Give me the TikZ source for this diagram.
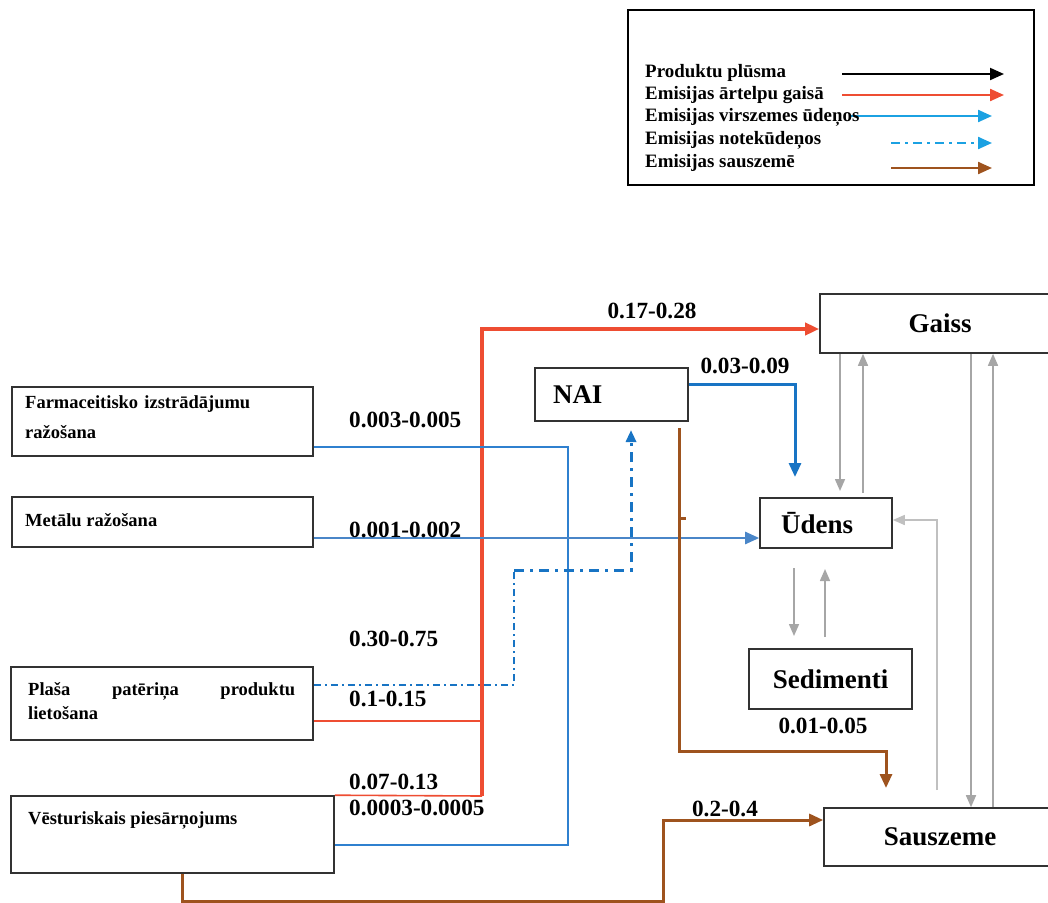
\documentclass[tikz,border=0pt]{standalone}
\usepackage{fontspec}
\setmainfont{Liberation Serif}
\usetikzlibrary{arrows.meta}

\definecolor{airred}{RGB}{238,77,50}
\definecolor{legcyan}{RGB}{27,161,226}
\definecolor{waterblue}{RGB}{24,116,196}
\definecolor{farmblue}{RGB}{47,128,207}
\definecolor{metalblue}{RGB}{74,134,200}
\definecolor{soilbrown}{RGB}{158,83,30}
\definecolor{flowgray}{RGB}{166,166,166}
\definecolor{lightflow}{RGB}{192,192,192}
\definecolor{framegray}{RGB}{50,50,50}

\tikzset{
  frame/.style={draw=framegray, line width=1.6pt, inner sep=0pt},
  bigtext/.style={font=\fontsize{27pt}{30pt}\selectfont\bfseries},
  srctext/.style={font=\fontsize{18.5pt}{30pt}\selectfont\bfseries, inner sep=0pt, anchor=west, align=left},
  numlab/.style={font=\fontsize{23.2pt}{25pt}\selectfont\bfseries, inner sep=0pt},
  legtext/.style={font=\fontsize{18.9pt}{22pt}\selectfont\bfseries, inner sep=0pt, anchor=west},
  bigtip/.style={-{Triangle[length=14pt,width=12pt]}},
  midtip/.style={-{Triangle[length=12pt,width=10pt]}},
  redthin/.style={draw=airred, line width=1.6pt},
  redthick/.style={draw=airred, line width=3.6pt},
  bluethin/.style={draw=farmblue, line width=1.6pt},
  metalline/.style={draw=metalblue, line width=2.4pt},
  waterline/.style={draw=waterblue, line width=3pt},
  ddthin/.style={draw=waterblue, line width=1.6pt, dash pattern=on 7pt off 4pt on 2pt off 4pt},
  ddthick/.style={draw=waterblue, line width=3pt, dash pattern=on 10pt off 6pt on 3pt off 6pt},
  soilline/.style={draw=soilbrown, line width=3pt},
  grayline/.style={draw=flowgray, line width=1.6pt},
  lightline/.style={draw=lightflow, line width=1.6pt},
}

\begin{document}
\begin{tikzpicture}[x=1pt,y=-1pt]
\useasboundingbox (0,0) rectangle (1048,902);

% ---------- legend ----------
\node[draw=black, line width=1.5pt, minimum width=406pt, minimum height=175pt, inner sep=0pt] (legend) at (831,97.5) {};
\coordinate (k1a) at (842,74);  \coordinate (k1b) at (1004,74);
\coordinate (k2a) at (842,95);  \coordinate (k2b) at (1004,95);
\coordinate (k3a) at (850,116); \coordinate (k3b) at (992,116);
\coordinate (k4a) at (891,143); \coordinate (k4b) at (992,143);
\coordinate (k5a) at (891,168); \coordinate (k5b) at (992,168);
\draw[black, line width=2pt, bigtip] (k1a) -- (k1b);
\draw[airred, line width=2.2pt, bigtip] (k2a) -- (k2b);
\draw[legcyan, line width=2.2pt, bigtip] (k3a) -- (k3b);
\draw[legcyan, line width=2.2pt, dash pattern=on 9pt off 5pt on 3pt off 5pt, bigtip] (k4a) -- (k4b);
\draw[soilbrown, line width=2.2pt, bigtip] (k5a) -- (k5b);
\node[legtext] (leg1) at (645,73)  {Produktu plūsma};
\node[legtext] (leg2) at (645,95)  {Emisijas ārtelpu gaisā};
\node[legtext] (leg3) at (645,117) {Emisijas virszemes ūdeņos};
\node[legtext] (leg4) at (645,140) {Emisijas notekūdeņos};
\node[legtext] (leg5) at (645,163) {Emisijas sauszemē};

% ---------- compartments ----------
\node[frame, bigtext, minimum width=240pt, minimum height=59pt] (gaiss) at (940,323.5) {Gaiss};
\node[frame, bigtext, minimum height=53pt, text width=117pt, inner xsep=18pt, align=left] (nai) at (611.5,394.5) {NAI};
\node[frame, bigtext, minimum height=50pt, text width=90pt, inner xsep=21pt, align=left] (udens) at (826,523) {Ūdens};
\node[frame, bigtext, minimum width=163pt, minimum height=60pt] (sedim) at (830.5,679) {Sedimenti};
\node[frame, bigtext, minimum width=232pt, minimum height=58pt] (sausz) at (940,837) {Sauszeme};

% ---------- sources ----------
\node[frame, minimum width=301pt, minimum height=69pt] (farm) at (162.5,421.5) {};
\node[frame, minimum width=301pt, minimum height=50pt] (metal) at (162.5,522) {};
\node[frame, minimum width=302pt, minimum height=73pt] (plasa) at (162,703.5) {};
\node[frame, minimum width=323pt, minimum height=77pt] (vest) at (172.5,834.5) {};
\node[srctext, text width=280pt] (farmtext) at (25,417) {Farmaceitisko izstrādājumu\\ražošana};
\node[srctext] (metaltext) at (25,520) {Metālu ražošana};
\node[srctext, text width=267pt, font=\fontsize{18.5pt}{24pt}\selectfont\bfseries] (plasatext) at (28,701) {\makebox[267pt][l]{Plaša\hfill patēriņa\hfill produktu}\\lietošana};
\node[srctext] (vesttext) at (28,820) {Vēsturiskais piesārņojums};

% ---------- emissions to air ----------
\coordinate (redfoot) at (482,796);
\coordinate (redmid) at (482,721);
\coordinate (redtop) at (482,329);
\draw[redthin] (vest.north east) -- (redfoot);
\draw[redthin] (plasa.east |- redmid) -- (redmid);
\draw[redthick, bigtip] (redfoot) -- (redtop) -- (gaiss.west |- redtop);

% ---------- emissions to surface water ----------
\coordinate (bf1) at (568,447);
\coordinate (bf2) at (568,845);
\draw[bluethin] (farm.east |- bf1) -- (bf1) -- (bf2) -- (vest.east |- bf2);
\coordinate (mline) at (313,538);
\draw[metalline, bigtip] (metal.east |- mline) -- (udens.west |- mline);
\coordinate (nb1) at (795,384);
\coordinate (nb2) at (795,477);
\draw[waterline, bigtip] (nai.east |- nb1) -- (nb1) -- (nb2);

% ---------- emissions to wastewater ----------
\coordinate (dd1) at (514,685);
\coordinate (dd2) at (514,570);
\coordinate (dd3) at (631,570);
\coordinate (dd4) at (631,430);
\draw[ddthin] (plasa.east |- dd1) -- (dd1) -- (dd2);
\draw[ddthick, midtip] (dd2) -- (dd3) -- (dd4);

% ---------- emissions to soil ----------
\coordinate (br0) at (679,428);
\coordinate (br1) at (679,751);
\coordinate (br2) at (886,751);
\coordinate (br3) at (886,788);
\coordinate (tick) at (679,518);
\draw[soilline, bigtip] (br0) -- (br1) -- (br2) -- (br3);
\draw[soilline] (tick) -- ++(7,0);
\coordinate (bv0) at (182,901);
\coordinate (bv1) at (663,901);
\coordinate (bv2) at (663,820);
\draw[soilline, bigtip] (vest.south -| bv0) -- (bv0) -- (bv1) -- (bv2) -- (sausz.west |- bv2);

% ---------- exchange between compartments ----------
\coordinate (ga1) at (840,491);
\coordinate (ga2) at (863,493);
\coordinate (ga3) at (971,0);
\coordinate (ga4) at (993,0);
\draw[grayline, midtip] (gaiss.south -| ga1) -- (ga1);
\draw[grayline, midtip] (ga2) -- (gaiss.south -| ga2);
\draw[grayline, midtip] (gaiss.south -| ga3) -- (sausz.north -| ga3);
\draw[grayline, midtip] (sausz.north -| ga4) -- (gaiss.south -| ga4);
\coordinate (gs0) at (937,790);
\coordinate (gs1) at (937,520);
\draw[lightline, midtip] (gs0) -- (gs1) -- (udens.east |- gs1);
\coordinate (sd1) at (794,568);
\coordinate (sd2) at (794,636);
\coordinate (su1) at (825,637);
\coordinate (su2) at (825,569);
\draw[grayline, midtip] (sd1) -- (sd2);
\draw[grayline, midtip] (su1) -- (su2);

% ---------- flow values ----------
\node[numlab] (v1) at (652,311) {0.17-0.28};
\node[numlab] (v2) at (745,366) {0.03-0.09};
\node[numlab, anchor=west] (v3) at (349,420) {0.003-0.005};
\node[numlab, anchor=west] (v4) at (349,530) {0.001-0.002};
\node[numlab, anchor=west] (v5) at (349,639) {0.30-0.75};
\node[numlab, anchor=west] (v6) at (349,699) {0.1-0.15};
\node[numlab, anchor=west] (v7) at (349,782) {0.07-0.13};
\node[numlab, anchor=west] (v8) at (349,808) {0.0003-0.0005};
\node[numlab] (v9) at (823,726) {0.01-0.05};
\node[numlab] (v10) at (725,809) {0.2-0.4};
\end{tikzpicture}
\end{document}
